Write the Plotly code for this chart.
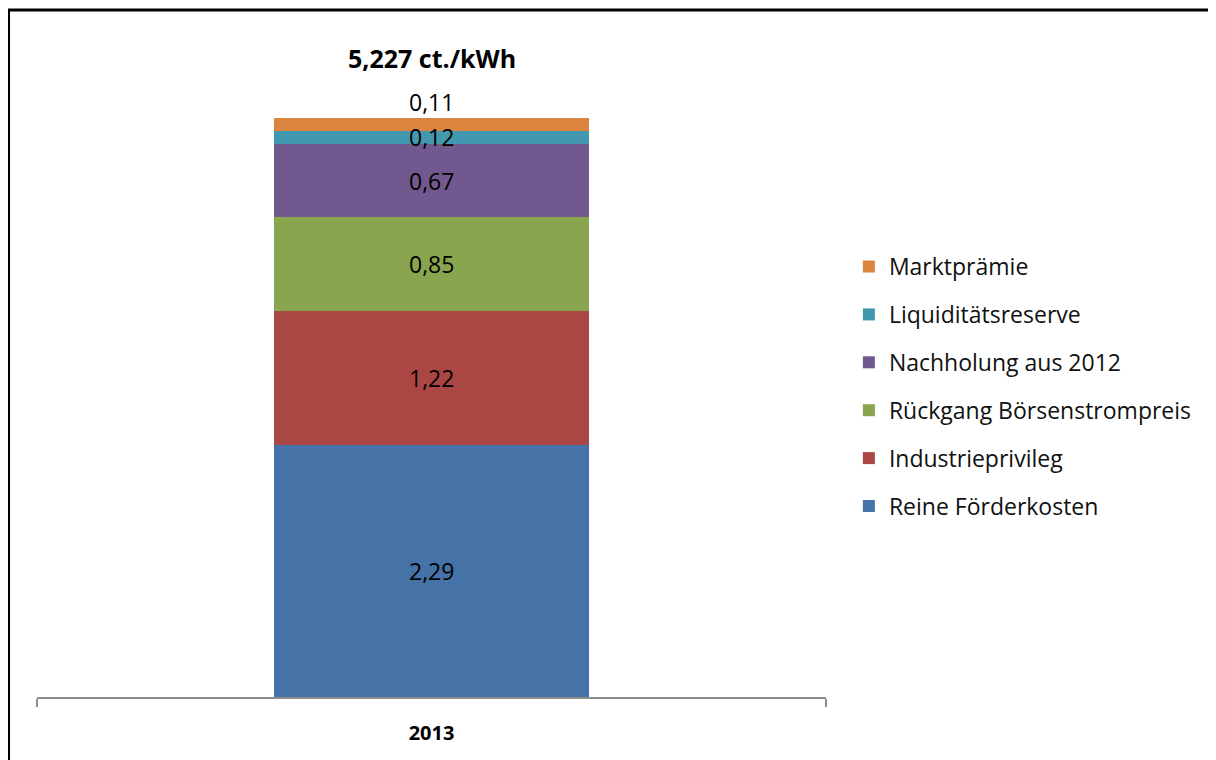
import plotly.graph_objects as go

categories = ["2013"]
series_names = ["Reine Förderkosten", "Industrieprivileg", "Rückgang Börsenstrompreis",
                "Nachholung aus 2012", "Liquiditätsreserve", "Marktprämie"]
series_values = [2.29, 1.22, 0.85, 0.67, 0.12, 0.11]
value_labels = ["2,29", "1,22", "0,85", "0,67", "0,12", "0,11"]
colors = ["#4572A7", "#AA4643", "#89A54E", "#71588F", "#4198AF", "#DB843D"]
total_label = "5,227 ct./kWh"

FONT = "Open Sans"
n = len(series_values)

fig = go.Figure()
for i, (name, v, c) in enumerate(zip(series_names, series_values, colors)):
    fig.add_trace(go.Bar(
        x=categories, y=[v], name=name, marker=dict(color=c, line=dict(width=0)),
        width=0.4, legendgroup=f"g{i}", legendrank=n - i, hoverinfo="skip"
    ))

annotations = []
cum = 0.0
for i, (v, lab) in enumerate(zip(series_values, value_labels)):
    if i == n - 1:
        annotations.append(dict(x=0, y=cum + v, text=lab, showarrow=False,
                                yanchor="middle", yshift=16,
                                font=dict(family=FONT, size=23, color="#000")))
    else:
        annotations.append(dict(x=0, y=cum + v / 2, text=lab, showarrow=False,
                                yanchor="middle",
                                font=dict(family=FONT, size=23, color="#000")))
    cum += v

annotations.append(dict(x=0, y=cum, text="<b>" + total_label + "</b>",
                        showarrow=False, yanchor="middle", yshift=60,
                        font=dict(family=FONT, size=25, color="#000")))

fig.update_layout(
    width=1208, height=752,
    barmode="stack",
    paper_bgcolor="white", plot_bgcolor="white",
    margin=dict(l=29, r=390, t=84, b=63),
    font=dict(family=FONT, color="#000"),
    showlegend=True,
    legend=dict(x=1.029, xanchor="left", y=0.747, yanchor="top",
                traceorder="grouped", tracegroupgap=15,
                font=dict(family=FONT, size=23, color="#111"),
                itemwidth=30, bgcolor="rgba(0,0,0,0)"),
    xaxis=dict(type="category", range=[-0.5, 0.5], showline=True, linecolor="#8c8c8c", linewidth=2,
               ticks="outside", tickson="boundaries", ticklen=8, tickwidth=2,
               tickcolor="#8c8c8c", showgrid=False, zeroline=False,
               tickfont=dict(family=FONT, size=20, color="#000"),
               tickprefix="<b>", ticksuffix="</b>", ticklabelstandoff=17),
    yaxis=dict(range=[0, 5.5], visible=False, showgrid=False, zeroline=False),
    annotations=annotations,
    shapes=[dict(type="rect", xref="paper", yref="paper",
                 x0=-0.0361, x1=1.6, y0=-0.2, y1=1.1355,
                 line=dict(color="black", width=3), fillcolor="rgba(0,0,0,0)", layer="above")],
)

fig.write_html("out.html")
